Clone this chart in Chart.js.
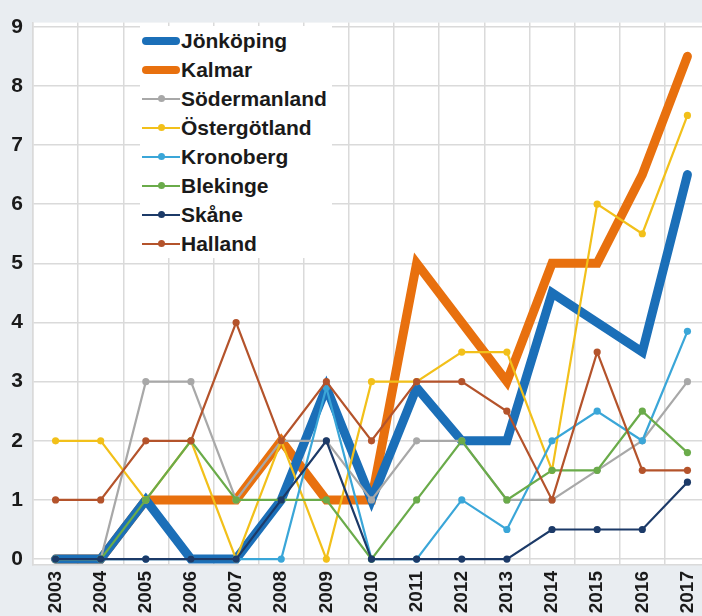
<!DOCTYPE html>
<html><head><meta charset="utf-8">
<script src="https://cdn.jsdelivr.net/npm/chart.js@4/dist/chart.umd.min.js"></script>
<style>
html,body{margin:0;padding:0;background:#e9edf1;overflow:hidden;width:702px;height:616px}
#wrap{position:absolute;left:0;top:0;width:725px;height:616px}
#legend{position:absolute;left:140px;top:26px;width:192px;background:#fff;font:bold 21px "Liberation Sans",Arial,sans-serif;color:#1a1a1a}
.row{height:29px;display:flex;align-items:center;white-space:nowrap}
.sw{position:relative;width:38px;height:29px;margin-left:2px;margin-right:1px;flex:none}
.ln{position:absolute;left:0;right:0;top:50%}
.dot{position:absolute;left:50%;top:50%;width:7px;height:7px;margin:-3.5px 0 0 -3.5px;border-radius:50%}
</style>
</head><body>
<div id="wrap"><canvas id="c" width="725" height="616"></canvas></div>
<div id="legend"></div>
<script>
const years = ['2003','2004','2005','2006','2007','2008','2009','2010','2011','2012','2013','2014','2015','2016','2017'];
const yTicks = [0,1,2,3,4,5,6,7,8,9];
const jonkoping    = [0,0,1,0,0,1,2.9,1,2.9,2,2,4.5,4,3.5,6.5];
const kalmar       = [0,0,1,1,1,2,1,1,5,4,3,5,5,6.5,8.5];
const sodermanland = [0,0,3,3,1,2,2,1,2,2,1,1,1.5,2,3];
const ostergotland = [2,2,1,2,0,2,0,3,3,3.5,3.5,1.5,6,5.5,7.5];
const kronoberg    = [0,0,0,0,0,0,2.9,0,0,1,0.5,2,2.5,2,3.85];
const blekinge     = [0,0,1,2,1,1,1,0,1,2,1,1.5,1.5,2.5,1.8];
const skane        = [0,0,0,0,0,1,2,0,0,0,0,0.5,0.5,0.5,1.3];
const halland      = [1,1,2,2,4,2,3,2,3,3,2.5,1,3.5,1.5,1.5];

const seriesNames  = ['Jönköping','Kalmar','Södermanland','Östergötland','Kronoberg','Blekinge','Skåne','Halland'];
const seriesData   = [jonkoping,kalmar,sodermanland,ostergotland,kronoberg,blekinge,skane,halland];
const seriesColors = ['#1b6fb8','#e8700e','#a8a8a8','#f2c01a','#3aa6d8','#6aab4a','#1c3a68','#b4532b'];
const thick        = [true,true,false,false,false,false,false,false];
const drawOrder    = [9,10,8,7,6,5,4,3];

const datasets = seriesNames.map((n,i)=>({
  label:n, data:seriesData[i], borderColor:seriesColors[i], backgroundColor:seriesColors[i],
  borderWidth: thick[i]?9:2.2, pointRadius: thick[i]?0:3.6, pointBorderWidth:0,
  pointHoverRadius:0, tension:0, borderCapStyle: thick[i]?'round':'butt',
  order: drawOrder[i], clip:false
}));

const bgPlugin = {
  id:'bg',
  beforeDraw(chart){
    const {ctx, chartArea:a} = chart;
    ctx.save();
    ctx.fillStyle = '#e9edf1';
    ctx.fillRect(0,0,chart.width,chart.height);
    ctx.fillStyle = '#ffffff';
    ctx.fillRect(a.left,a.top,a.right-a.left,a.bottom-a.top);
    ctx.restore();
  }
};

const font = 'Liberation Sans, Arial, sans-serif';
new Chart(document.getElementById('c'), {
  type:'line',
  data:{labels:years, datasets},
  plugins:[bgPlugin],
  options:{
    responsive:false, animation:false,
    layout:{padding:{top:15,right:15,left:0,bottom:0}},
    plugins:{legend:{display:false}, tooltip:{enabled:false}},
    scales:{
      x:{
        offset:true,
        grid:{offset:true,color:'#dadada',lineWidth:1.5,drawTicks:false},
        border:{color:'#dadada',width:1.5},
        afterFit(s){ s.height = 51; },
        ticks:{font:{family:font,size:19,weight:'bold'},color:'#1a1a1a',minRotation:90,maxRotation:90,padding:6,autoSkip:false}
      },
      y:{
        min:-0.1, max:9.07,
        afterBuildTicks(s){ s.ticks = yTicks.map(v=>({value:v})); },
        grid:{color:'#dadada',lineWidth:1.5,drawTicks:false},
        border:{color:'#dadada',width:1.5},
        afterFit(s){ s.width = 33; },
        ticks:{font:{family:font,size:21,weight:'bold'},color:'#1a1a1a',padding:10}
      }
    }
  }
});

const leg = document.getElementById('legend');
seriesNames.forEach((n,i)=>{
  const row = document.createElement('div'); row.className='row';
  const sw = document.createElement('div'); sw.className='sw';
  const ln = document.createElement('div'); ln.className='ln';
  const h = thick[i]?8:2;
  ln.style.height = h+'px'; ln.style.marginTop = (-h/2)+'px'; ln.style.background = seriesColors[i];
  if (thick[i]) ln.style.borderRadius = '4px';
  sw.appendChild(ln);
  if (!thick[i]) { const d=document.createElement('div'); d.className='dot'; d.style.background=seriesColors[i]; sw.appendChild(d); }
  const t = document.createElement('span'); t.textContent = n;
  row.appendChild(sw); row.appendChild(t); leg.appendChild(row);
});
</script>
</body></html>
